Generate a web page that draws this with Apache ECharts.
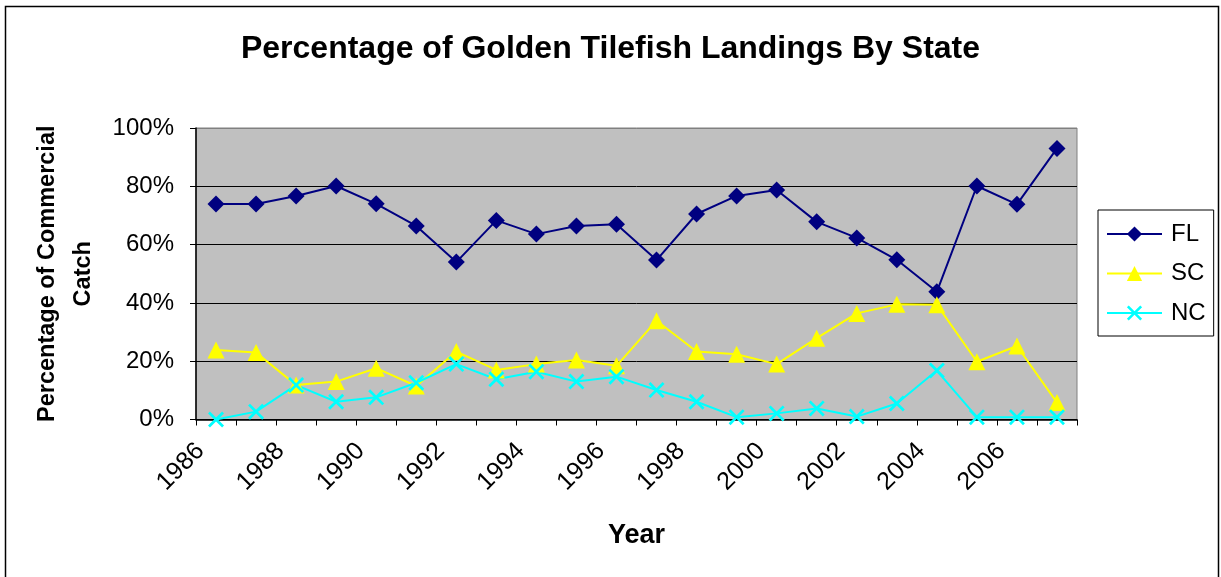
<!DOCTYPE html>
<html>
<head>
<meta charset="utf-8">
<script src="https://cdn.jsdelivr.net/npm/echarts@6/dist/echarts.min.js"></script>
<style>
html,body{margin:0;padding:0;background:#fff;}
#chart{width:1221px;height:577px;}
</style>
</head>
<body>
<div id="chart"></div>
<script>
const years = ['1986','1987','1988','1989','1990','1991','1992','1993','1994','1995','1996','1997','1998','1999','2000','2001','2002','2003','2004','2005','2006','2007'];
const flValues = [73.9, 73.9, 76.7, 80.1, 74.0, 66.4, 54.0, 68.3, 63.6, 66.4, 67.0, 54.7, 70.5, 76.7, 78.7, 67.8, 62.3, 54.8, 43.8, 80.1, 73.8, 93.0];
const scValues = [23.8, 23.0, 11.8, 13.0, 17.6, 11.5, 23.3, 17.0, 19.0, 20.4, 18.4, 33.9, 23.3, 22.4, 19.0, 27.9, 36.4, 39.5, 39.4, 19.8, 25.2, 5.8];
const ncValues = [0.0, 2.7, 11.8, 6.1, 7.6, 12.6, 19.0, 13.8, 16.4, 13.0, 14.7, 10.1, 6.1, 0.8, 2.1, 3.8, 1.0, 5.5, 16.8, 0.8, 0.8, 0.8];
const yTicks = [0, 20, 40, 60, 80, 100];

const FONT = '"Liberation Sans", Arial, sans-serif';
const xPath = 'path://M0,1.2L1.2,0L5,3.8L8.8,0L10,1.2L6.2,5L10,8.8L8.8,10L5,6.2L1.2,10L0,8.8L3.8,5Z';

const chart = echarts.init(document.getElementById('chart'), null, {renderer: 'canvas'});
chart.setOption({
  animation: false,
  backgroundColor: '#ffffff',
  title: {
    text: 'Percentage of Golden Tilefish Landings By State',
    left: 'center',
    top: 28,
    textStyle: {fontFamily: FONT, fontSize: 32, fontWeight: 'bold', color: '#000'}
  },
  graphic: [{
    type: 'rect', left: 3, top: 4, z: -1,
    shape: {width: 1213, height: 580},
    style: {fill: 'none', stroke: '#000', lineWidth: 1.5}
  }],
  legend: {
    orient: 'vertical',
    left: 1098, top: 210,
    padding: [12, 8, 11, 8],
    itemGap: 15.5,
    itemWidth: 55, itemHeight: 19,
    backgroundColor: '#fff',
    borderColor: '#000', borderWidth: 1,
    textStyle: {fontFamily: FONT, fontSize: 24, color: '#000', padding: [0, 0, 0, 4]},
    data: ['FL', 'SC', 'NC']
  },
  grid: {left: 196, top: 128, width: 881, height: 291.5, show: true, backgroundColor: '#C0C0C0', borderColor: '#808080', borderWidth: 1},
  xAxis: {
    type: 'category',
    data: years,
    boundaryGap: true,
    name: 'Year',
    nameLocation: 'middle',
    nameGap: 103,
    nameTextStyle: {fontFamily: FONT, fontSize: 27, fontWeight: 'bold', color: '#000'},
    axisLine: {lineStyle: {color: '#000', width: 1.5}},
    axisTick: {show: true, alignWithLabel: false, interval: 0, length: 6, lineStyle: {color: '#000'}},
    axisLabel: {
      interval: 1, rotate: 45, margin: 12,
      fontFamily: FONT, fontSize: 25, color: '#000',
      padding: [0, 22, 0, 0]
    },
    splitLine: {show: false}
  },
  yAxis: {
    type: 'value',
    min: 0, max: 100, interval: 20,
    name: 'Percentage of Commercial\nCatch',
    nameLocation: 'middle',
    nameRotate: 90,
    nameGap: 94,
    nameTextStyle: {fontFamily: FONT, fontSize: 23.5, fontWeight: 'bold', color: '#000', lineHeight: 36, align: 'center'},
    axisLine: {show: true, lineStyle: {color: '#000', width: 1.5}},
    axisTick: {show: true, length: 6, lineStyle: {color: '#000'}},
    axisLabel: {
      margin: 22, fontFamily: FONT, fontSize: 24, color: '#000',
      formatter: function (v) { return yTicks.indexOf(v) >= 0 ? v + '%' : ''; }
    },
    splitLine: {show: true, lineStyle: {color: ['#000', '#000', '#000', '#000', '#000', '#808080'], width: 1}}
  },
  series: [
    {
      name: 'FL', type: 'line', data: flValues,
      symbol: 'diamond', symbolSize: 17,
      lineStyle: {color: '#000080', width: 2},
      itemStyle: {color: '#000080'}
    },
    {
      name: 'SC', type: 'line', data: scValues,
      symbol: 'triangle', symbolSize: 17,
      lineStyle: {color: '#FFFF00', width: 2},
      itemStyle: {color: '#FFFF00'}
    },
    {
      name: 'NC', type: 'line', data: ncValues,
      symbol: xPath, symbolSize: 16,
      lineStyle: {color: '#00FFFF', width: 2},
      itemStyle: {color: '#00FFFF'}
    }
  ]
});
</script>
</body>
</html>
